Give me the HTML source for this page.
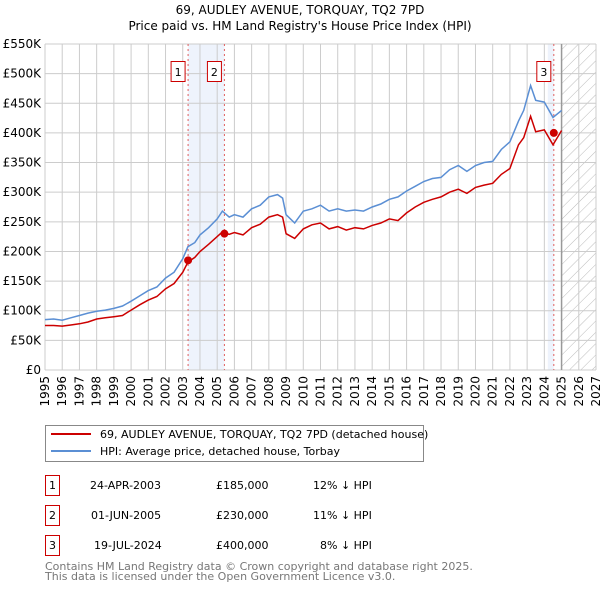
<!DOCTYPE html>
<html><head><meta charset="utf-8"><style>
body{margin:0;background:#fff;font-family:"Liberation Sans","DejaVu Sans",sans-serif;}
svg text{font-family:"DejaVu Sans","Liberation Sans",sans-serif;}
</style></head><body>
<svg width="600" height="590" viewBox="0 0 600 590" xmlns="http://www.w3.org/2000/svg">
<text x="300" y="14" font-size="12" text-anchor="middle">69, AUDLEY AVENUE, TORQUAY, TQ2 7PD</text>
<text x="300" y="30" font-size="12" text-anchor="middle">Price paid vs. HM Land Registry's House Price Index (HPI)</text>
<g id="plot"></g>
<g>
<rect x="45.5" y="425.5" width="378" height="36" fill="#fff" stroke="#888"/>
<line x1="51" y1="434" x2="91" y2="434" stroke="#cc0000" stroke-width="2"/>
<text x="100" y="438" font-size="11">69, AUDLEY AVENUE, TORQUAY, TQ2 7PD (detached house)</text>
<line x1="51" y1="451" x2="91" y2="451" stroke="#5b8fd4" stroke-width="2"/>
<text x="100" y="455" font-size="11">HPI: Average price, detached house, Torbay</text>
</g>
<g font-size="11">
<rect x="45.5" y="475.5" width="14" height="20" fill="none" stroke="#cc0000"/><text x="52.5" y="489" text-anchor="middle">1</text>
<text x="90" y="489">24-APR-2003</text><text x="216" y="489">£185,000</text><text x="313" y="489">12% ↓ HPI</text>
<rect x="45.5" y="505.5" width="14" height="20" fill="none" stroke="#cc0000"/><text x="52.5" y="519" text-anchor="middle">2</text>
<text x="91" y="519">01-JUN-2005</text><text x="216" y="519">£230,000</text><text x="313" y="519">11% ↓ HPI</text>
<rect x="45.5" y="535.5" width="14" height="20" fill="none" stroke="#cc0000"/><text x="52.5" y="549" text-anchor="middle">3</text>
<text x="94" y="549">19-JUL-2024</text><text x="216" y="549">£400,000</text><text x="320" y="549">8% ↓ HPI</text>
</g>
<text x="45" y="570" font-size="11" fill="#777">Contains HM Land Registry data © Crown copyright and database right 2025.</text>
<text x="45" y="580" font-size="11" fill="#777">This data is licensed under the Open Government Licence v3.0.</text>
</svg>
<script>
const yTicks=[0,50,100,150,200,250,300,350,400,450,500,550];
const years=[1995,1996,1997,1998,1999,2000,2001,2002,2003,2004,2005,2006,2007,2008,2009,2010,2011,2012,2013,2014,2015,2016,2017,2018,2019,2020,2021,2022,2023,2024,2025,2026,2027];
const hpiT=[1995,1995.5,1996,1996.5,1997,1997.5,1998,1998.5,1999,1999.5,2000,2000.5,2001,2001.5,2002,2002.5,2003,2003.3,2003.7,2004,2004.5,2005,2005.3,2005.7,2006,2006.5,2007,2007.5,2008,2008.5,2008.8,2009,2009.5,2010,2010.5,2011,2011.5,2012,2012.5,2013,2013.5,2014,2014.5,2015,2015.5,2016,2016.5,2017,2017.5,2018,2018.5,2019,2019.5,2020,2020.5,2021,2021.5,2022,2022.5,2022.8,2023.2,2023.5,2024,2024.5,2025];
const hpiV=[85,86,84,88,92,96,99,101,104,108,116,125,134,140,155,165,188,208,215,228,240,255,268,258,262,258,272,278,292,296,290,262,248,268,272,278,268,272,268,270,268,275,280,288,292,302,310,318,323,325,338,345,335,345,350,352,372,385,420,438,480,455,452,426,438,436];
const priceV=[75,75,74,76,78,81,86,88,90,92,101,110,118,124,137,146,165,182,190,200,212,225,233,229,232,228,240,246,258,262,258,230,222,238,245,248,238,242,236,240,238,244,248,255,252,265,275,283,288,292,300,305,298,308,312,315,330,340,380,392,428,402,405,380,404,403];
const saleT=[2003.31,2005.42,2024.55];
const saleV=[185,230,400];
const saleLabels=["1","2","3"];
const X0=45,X1=596,Y0=370,Y1=44;
const xs=t=>X0+(t-1995)/(2027-1995)*(X1-X0);
const ys=v=>Y0-v/550*(Y0-Y1);
const NS="http://www.w3.org/2000/svg";
const g=document.getElementById('plot');
function mk(tag,attrs,parent){const e=document.createElementNS(NS,tag);for(const k in attrs)e.setAttribute(k,attrs[k]);(parent||g).appendChild(e);return e;}
let r=mk('rect',{x:xs(saleT[0]),y:Y1,width:xs(saleT[1])-xs(saleT[0]),height:Y0-Y1,fill:'#eef3fc'});


r=mk('rect',{x:xs(2024.2),y:Y1,width:xs(saleT[2])-xs(2024.2),height:Y0-Y1,fill:'#eef3fc'});


const defs=mk('defs',{});
const pat=mk('pattern',{id:'hatch',width:8,height:8,patternUnits:'userSpaceOnUse',patternTransform:'rotate(45)'},defs);
mk('line',{x1:0,y1:0,x2:0,y2:8,stroke:'#bbb','stroke-width':1},pat);
r=mk('rect',{x:xs(2025),y:Y1,width:X1-xs(2025),height:Y0-Y1,fill:'url(#hatch)'});


yTicks.forEach(v=>{
 const l=mk('line',{x1:X0,x2:X1,y1:ys(v),y2:ys(v),stroke:'#ccc'});
 
 
 const t=mk('text',{x:X0-4,y:ys(v)+4,'font-size':12,'text-anchor':'end'});
 t.textContent=v===0?'£0':'£'+v+'K';
 
 
});
years.forEach(y=>{
 const l=mk('line',{x1:xs(y),x2:xs(y),y1:Y1,y2:Y0,stroke:'#ccc'});
 
 
 const t=mk('text',{x:0,y:0,'font-size':12,'text-anchor':'end',transform:`translate(${xs(y)+4},${Y0+6}) rotate(-90)`});
 t.textContent=y;
 
 
});
let l=mk('line',{x1:xs(2025),x2:xs(2025),y1:Y1,y2:Y0,stroke:'#999','stroke-width':1.5});


saleT.forEach((t,i)=>{
 const d=mk('line',{x1:xs(t),x2:xs(t),y1:Y1,y2:Y0,stroke:'#e06060','stroke-dasharray':'2,3'});
 
 
 const bx=xs(t)-(i===1?3:-0)-14+(i===1?-0:-3);
 const b=mk('rect',{x:bx,y:61.5,width:14,height:20,fill:'#fff',stroke:'#cc0000'});
 
 
 const tx=mk('text',{x:bx+7,y:76,'font-size':11,'text-anchor':'middle'});
 tx.textContent=saleLabels[i];
 
 
});
function path(T,V,color,name){
 const p=mk('path',{d:T.map((t,i)=>(i?'L':'M')+xs(t).toFixed(1)+','+ys(V[i]).toFixed(1)).join(''),fill:'none',stroke:color,'stroke-width':1.5});
 
 
}
path(hpiT,hpiV,'#5b8fd4','hpi-line');
path(hpiT,priceV,'#cc0000','price-line');
saleT.forEach((t,i)=>{
 const c=mk('circle',{cx:xs(t),cy:ys(saleV[i]),r:4,fill:'#cc0000'});
 
 
});
</script>
</body></html>
